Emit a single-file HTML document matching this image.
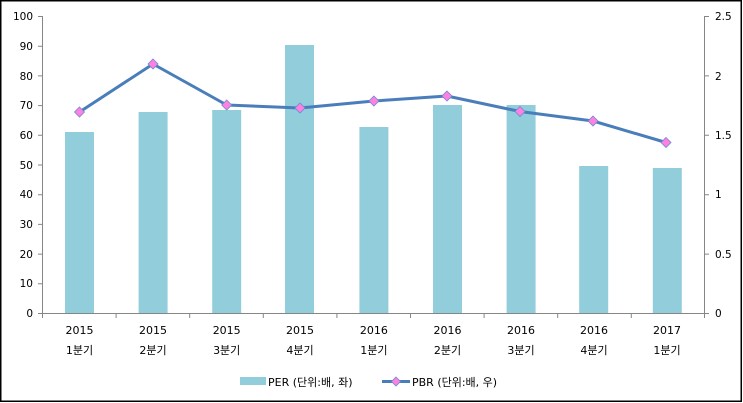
<!DOCTYPE html>
<html><head><meta charset="utf-8"><style>
html,body{margin:0;padding:0;background:#fff;}
svg{display:block;font-family:"DejaVu Sans","Noto Sans CJK KR",sans-serif;}
</style></head><body>
<svg width="743" height="403" viewBox="0 0 743 403" xmlns="http://www.w3.org/2000/svg">
<rect x="0.75" y="0.75" width="740.5" height="400.5" fill="#fff" stroke="#000" stroke-width="1.5"/>
<g fill="#92CDDC">
<rect x="65" y="132" width="29" height="181"/>
<rect x="138.6" y="112" width="29" height="201"/>
<rect x="212.2" y="110" width="29" height="203"/>
<rect x="285" y="45" width="29" height="268"/>
<rect x="359.4" y="127" width="29" height="186"/>
<rect x="433" y="105" width="29" height="208"/>
<rect x="506.6" y="105" width="29" height="208"/>
<rect x="579.2" y="166" width="29" height="147"/>
<rect x="652.8" y="168" width="29" height="145"/>
</g>
<g stroke="#868686" stroke-width="1" fill="none">
<path d="M42.5 16V313.5M38 16.5H42.5M38 46.2H42.5M38 75.9H42.5M38 105.6H42.5M38 135.3H42.5M38 165H42.5M38 194.7H42.5M38 224.4H42.5M38 254.1H42.5M38 283.8H42.5M38 313.5H705"/>
<path d="M704.5 16V313.5M704.5 16.5H709M704.5 75.9H709M704.5 135.3H709M704.5 194.7H709M704.5 254.1H709M704.5 313.5H709"/>
<path d="M42.5 313.5V318M116.1 313.5V318M189.7 313.5V318M263.3 313.5V318M336.9 313.5V318M410.5 313.5V318M484.1 313.5V318M557.7 313.5V318M631.3 313.5V318M704.5 313.5V318"/>
</g>
<g font-size="10.5" fill="#000" text-anchor="end">
<text x="33" y="20">100</text><text x="33" y="50">90</text><text x="33" y="80">80</text><text x="33" y="109">70</text><text x="33" y="139">60</text><text x="33" y="169">50</text><text x="33" y="198">40</text><text x="33" y="228">30</text><text x="33" y="258">20</text><text x="33" y="287">10</text><text x="33" y="317">0</text>
</g>
<g font-size="10.5" fill="#000">
<text x="715" y="20">2.5</text><text x="715" y="80">2</text><text x="715" y="139">1.5</text><text x="715" y="198">1</text><text x="715" y="258">0.5</text><text x="715" y="317">0</text>
</g>
<g font-size="11" fill="#000" text-anchor="middle">
<text x="79.5" y="334">2015</text><text x="79.5" y="354">1분기</text>
<text x="153" y="334">2015</text><text x="153" y="354">2분기</text>
<text x="226.7" y="334">2015</text><text x="226.7" y="354">3분기</text>
<text x="300" y="334">2015</text><text x="300" y="354">4분기</text>
<text x="373.9" y="334">2016</text><text x="373.9" y="354">1분기</text>
<text x="447.5" y="334">2016</text><text x="447.5" y="354">2분기</text>
<text x="521" y="334">2016</text><text x="521" y="354">3분기</text>
<text x="594" y="334">2016</text><text x="594" y="354">4분기</text>
<text x="667" y="334">2017</text><text x="667" y="354">1분기</text>
</g>
<polyline points="79.5,112 153,64 226.7,105 300,108 373.9,101 447,96 520,111.5 593,121 666,142.5" fill="none" stroke="#4A7EBB" stroke-width="3" stroke-linejoin="round"/>
<g fill="#FF80E0" stroke="#6A8BD0" stroke-width="0.8">
<path d="M79.5 107l5 5-5 5-5-5z"/><path d="M153 59l5 5-5 5-5-5z"/><path d="M226.7 100l5 5-5 5-5-5z"/><path d="M300 103l5 5-5 5-5-5z"/><path d="M373.9 96l5 5-5 5-5-5z"/><path d="M447 91l5 5-5 5-5-5z"/><path d="M520 106.5l5 5-5 5-5-5z"/><path d="M593 116l5 5-5 5-5-5z"/><path d="M666 137.5l5 5-5 5-5-5z"/>
</g>
<rect x="240" y="377" width="26" height="8" fill="#92CDDC"/>
<text x="268" y="386" font-size="11" fill="#000">PER (단위:배, 좌)</text>
<line x1="382" y1="381.5" x2="410" y2="381.5" stroke="#4A7EBB" stroke-width="3"/>
<path d="M396 377l4.5 4.5-4.5 4.5-4.5-4.5z" fill="#FF80E0" stroke="#6A8BD0" stroke-width="0.8"/>
<text x="412" y="386" font-size="11" fill="#000">PBR (단위:배, 우)</text>
</svg>
</body></html>
